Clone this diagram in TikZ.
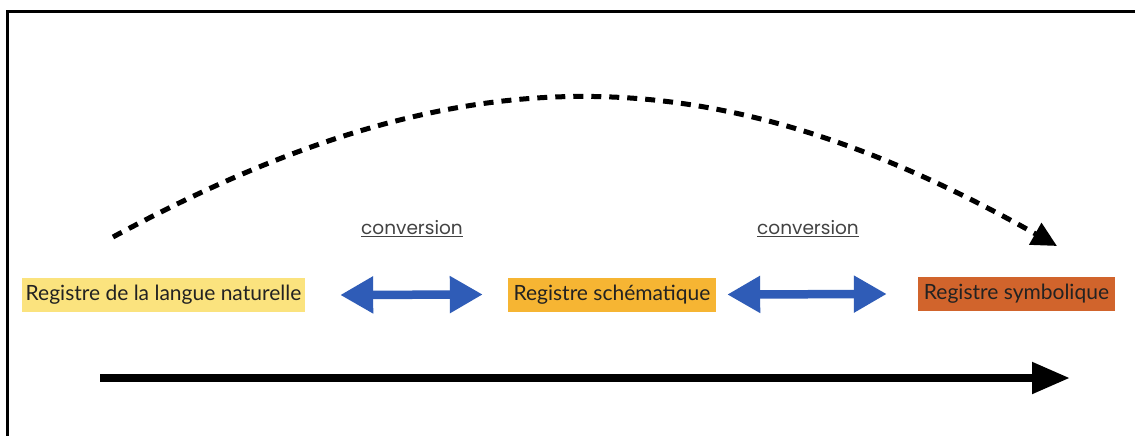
\documentclass[tikz,border=0pt]{standalone}
\usepackage{fontspec}
\setmainfont{Lato}
\newfontfamily\convfont{Poppins}
\usetikzlibrary{arrows.meta}
\definecolor{boxA}{HTML}{FBE37E}
\definecolor{boxB}{HTML}{F6B533}
\definecolor{boxC}{HTML}{D1642C}
\definecolor{blueA}{HTML}{2F5CB7}
\definecolor{txt}{HTML}{222222}
\tikzset{
  regbox/.style={inner sep=0pt, minimum height=34pt, text=txt, font=\fontsize{21}{24}\selectfont},
  dblarrow/.style={draw=blueA, line width=8.5pt, {Triangle[length=33pt,width=35pt]}-{Triangle[length=33pt,width=35pt]}},
  convlabel/.style={text=txt!85, font=\convfont\fontsize{18.5}{20}\selectfont},
  bigarrow/.style={line width=8pt, -{Triangle[length=38pt,width=30pt]}},
  curvearrow/.style={line width=5pt, dash pattern=on 10pt off 8pt, -{Triangle[length=25pt,width=24pt]}},
  frame/.style={line width=3pt}
}
\begin{document}
\begin{tikzpicture}[x=1pt,y=-1pt]
\useasboundingbox (0,0) rectangle (1135,436);
\fill[white] (0,0) rectangle (1135,436);
\draw[frame] (7.5,436) -- (7.5,11.5) -- (1135,11.5);
\node[regbox, fill=boxA, minimum width=283pt] (b1) at (163.5,295) {Registre de la langue naturelle};
\node[regbox, fill=boxB, minimum width=208pt] (b2) at (612,294.5) {Registre schématique};
\node[regbox, fill=boxC, minimum width=197pt] (b3) at (1016.5,294) {Registre symbolique};
\draw[dblarrow] ([xshift=35pt]b1.east) -- ([xshift=-25pt]b2.west);
\draw[dblarrow] ([xshift=11pt]b2.east) -- ([xshift=-31pt]b3.west);
\node[convlabel] (c1) at (412,229) {\underline{conversion}};
\node[convlabel] (c2) at (808,229) {\underline{conversion}};
\coordinate (ds) at (113,237);
\coordinate (de) at (1057,246);
\draw[curvearrow] (ds) .. controls (459,50) and (709,50) .. (de);
\coordinate (as) at (100,378);
\coordinate (ae) at (1070,378);
\draw[bigarrow] (as) -- (ae);
\end{tikzpicture}
\end{document}
